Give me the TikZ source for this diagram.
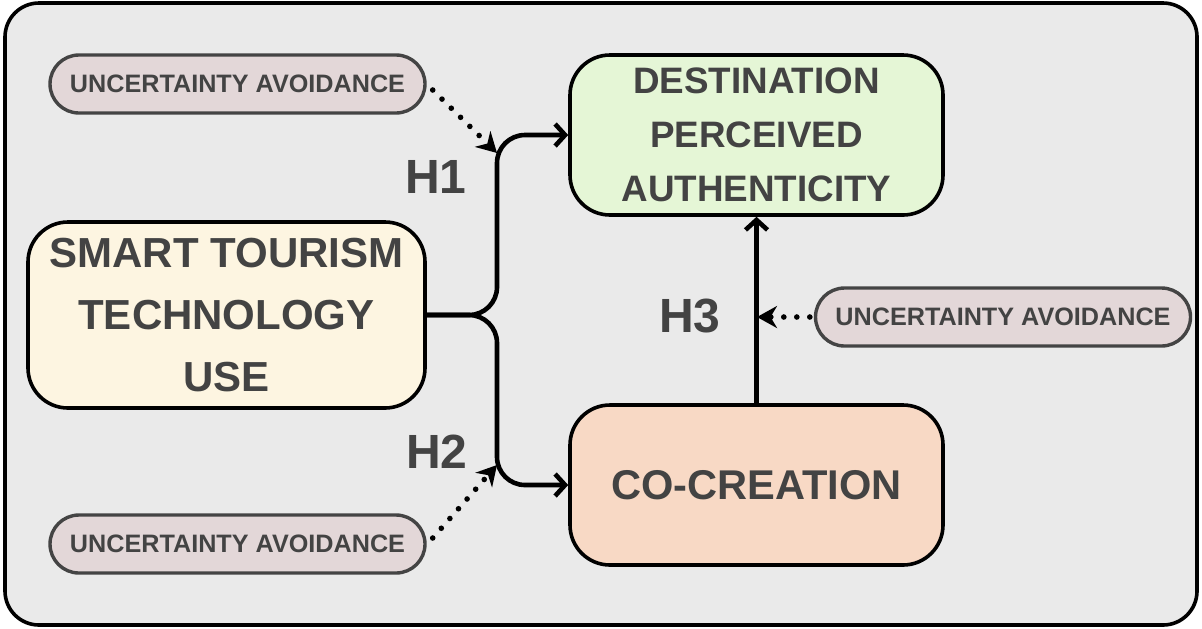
\documentclass[tikz,border=0pt]{standalone}
\usepackage{fontspec}
\setmainfont{Liberation Sans}
\usetikzlibrary{arrows.meta}
\definecolor{frame}{HTML}{EAEAEA}
\definecolor{uafill}{HTML}{E3D7D8}
\definecolor{destfill}{HTML}{E5F6D6}
\definecolor{sttfill}{HTML}{FDF5E1}
\definecolor{ccfill}{HTML}{F8D9C5}
\definecolor{txt}{HTML}{434343}
\definecolor{pillline}{HTML}{444444}
\tikzset{
  pill/.style={draw=pillline, line width=1.7pt, fill=uafill, rounded corners=14.5pt,
    minimum width=187.5pt, minimum height=29pt, inner sep=0pt, text=txt,
    font=\bfseries\fontsize{12.6}{14}\selectfont},
  bigbox/.style={draw=black, line width=1.8pt, rounded corners=20pt,
    minimum width=186.5pt, minimum height=80pt, inner sep=0pt, align=center, text=txt},
  conn/.style={line width=2.3pt, -{Straight Barb[length=5pt,width=11pt,line width=2.3pt]}, rounded corners=14pt},
  dotarrow/.style={line width=2.8pt, line cap=round, dash pattern=on 0pt off 6.5pt,
    -{Stealth[length=10pt,width=11pt]}},
  hlabel/.style={text=txt, font=\bfseries\fontsize{24}{28}\selectfont, inner sep=0pt}
}
\begin{document}
\begin{tikzpicture}[x=0.5pt,y=-0.5pt]
\useasboundingbox (0,0) rectangle (1202,628);
\draw[line width=1.8pt, fill=frame, rounded corners=17pt] (5,3) rectangle (1197,625);

\node[pill] (ua1) at (237.5,84) {UNCERTAINTY AVOIDANCE};
\node[pill] (ua2) at (237.5,544) {UNCERTAINTY AVOIDANCE};
\node[pill] (ua3) at (1003,317) {UNCERTAINTY AVOIDANCE};

\node[bigbox, fill=destfill, font=\bfseries\fontsize{18.4}{27}\selectfont] (dest) at (756.5,135)
  {DESTINATION\\PERCEIVED\\AUTHENTICITY};
\node[bigbox, fill=sttfill, minimum width=198.5pt, minimum height=93pt,
  font=\bfseries\fontsize{21}{31}\selectfont] (stt) at (226.5,315)
  {SMART TOURISM\\TECHNOLOGY\\USE};
\node[bigbox, fill=ccfill, font=\bfseries\fontsize{20.8}{26}\selectfont] (cc) at (756.5,485)
  {CO-CREATION};

\coordinate (split) at (497,315);
\draw[conn] (stt.east) -- (split) |- (dest.west);
\draw[conn] (stt.east) -- (split) |- (cc.west);
\draw[conn, rounded corners=0pt] (cc.north) -- (dest.south);

\coordinate (t1) at (497,153);
\coordinate (t2) at (497,465);
\coordinate (t3) at (757,317);
\draw[dotarrow] ([xshift=3pt,yshift=-3pt]ua1.east) -- (t1);
\draw[dotarrow] ([xshift=3pt,yshift=3pt]ua2.east) -- (t2);
\draw[dotarrow] ([xshift=-2pt]ua3.west) -- (t3);

\node[hlabel] (h1) at (436,177) {H1};
\node[hlabel] (h2) at (437,452) {H2};
\node[hlabel] (h3) at (690,316) {H3};
\end{tikzpicture}
\end{document}
